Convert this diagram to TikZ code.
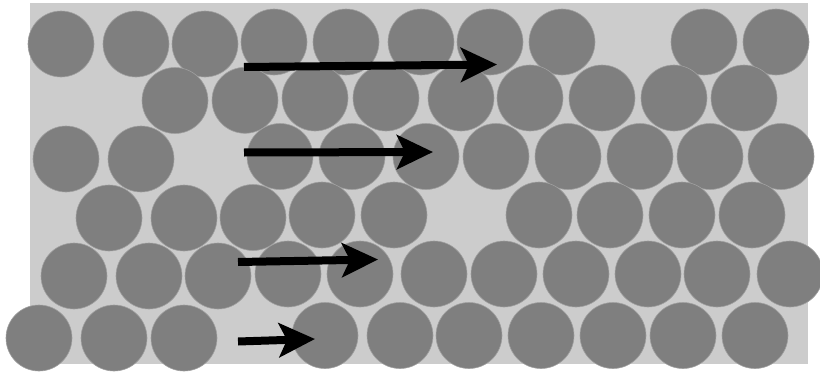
\documentclass[tikz,border=0pt]{standalone}
\usetikzlibrary{arrows.meta}
\definecolor{bgray}{RGB}{204,204,204}
\definecolor{cgray}{RGB}{127,127,127}
\definecolor{egray}{RGB}{160,160,160}
\tikzset{
  ball/.style={fill=cgray, draw=egray, line width=0.6pt},
  bigarrow/.style={line width=8pt, -{Stealth[length=36pt,width=34pt,inset=8pt]}, black}
}
\begin{document}
\begin{tikzpicture}[x=1pt,y=-1pt]
\useasboundingbox (0,0) rectangle (820,372);
\clip (0,0) rectangle (820,372);
\fill[white] (0,0) rectangle (820,372);
\fill[bgray] (30,3) rectangle (808,364);
% row 1
\foreach \x/\y in {61/44,136/44,205/44,274/42,346/42,421/42,490/42,562/42,704/42,776/42}
  \path[ball] (\x,\y) circle[radius=33];
% row 2
\foreach \x/\y in {175/100.5,245/100.3,315/98,386/98,461/98,530/98,602/98,674/98,744/98}
  \path[ball] (\x,\y) circle[radius=33];
% row 3
\foreach \x/\y in {66/159,141/159,280/156.5,352/156.5,426/156.5,496/156.5,568/156.5,640/156.5,710/156.5,781/156.5}
  \path[ball] (\x,\y) circle[radius=33];
% row 4
\foreach \x/\y in {109/218,184/218,253/217.5,322/215,394/215,539/215,610/215,682/215,752/215}
  \path[ball] (\x,\y) circle[radius=33];
% row 5
\foreach \x/\y in {74/276,149/276,218/276,288/274,360/274,434/274,504/274,576/274,648/274,717/274,790/274}
  \path[ball] (\x,\y) circle[radius=33];
% row 6
\foreach \x/\y in {39/338,114/338,184/338,325/335.5,400/335.5,469/335.5,541/335.5,613/335.5,683/335.5,755/335.5}
  \path[ball] (\x,\y) circle[radius=33];
% arrows
\coordinate (a1s) at (244,67);   \coordinate (a1e) at (497,64.5);
\coordinate (a2s) at (244,152.5);\coordinate (a2e) at (433,152);
\coordinate (a3s) at (238,262);  \coordinate (a3e) at (378,259.5);
\coordinate (a4s) at (238,341.5);\coordinate (a4e) at (315,339);
\draw[bigarrow] (a1s) -- (a1e);
\draw[bigarrow] (a2s) -- (a2e);
\draw[bigarrow] (a3s) -- (a3e);
\draw[bigarrow] (a4s) -- (a4e);
\end{tikzpicture}
\end{document}
